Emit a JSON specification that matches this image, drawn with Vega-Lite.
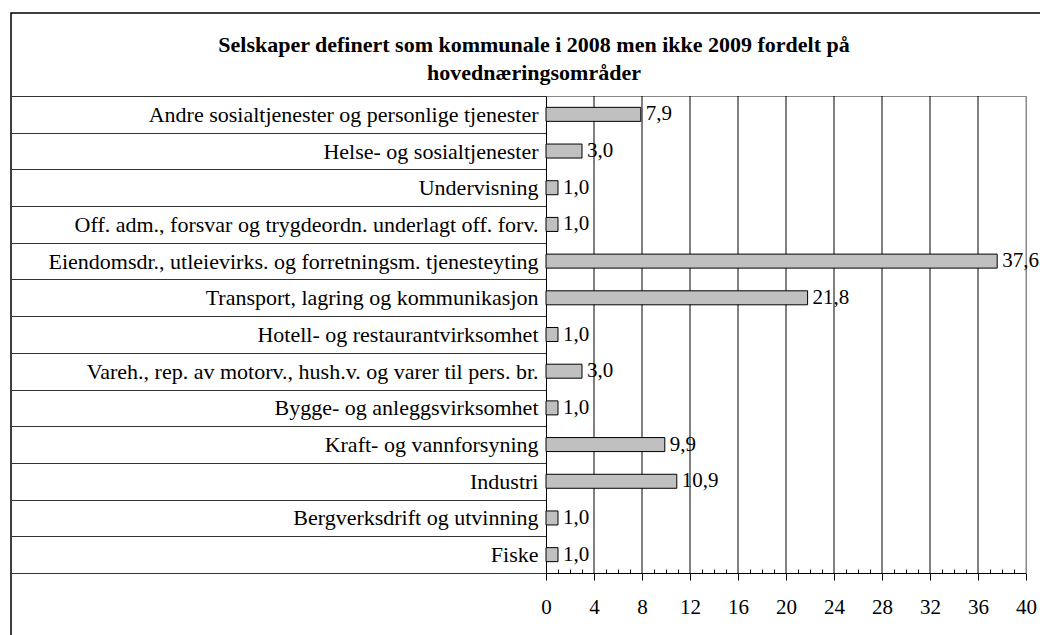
{
  "$schema": "https://vega.github.io/schema/vega-lite/v6.json",
  "width": 1030,
  "height": 623,
  "padding": {"left": 10, "top": 2, "right": 0, "bottom": 0},
  "title": {
    "text": ["Selskaper definert som  kommunale i 2008 men ikke 2009 fordelt på", "hovednæringsområder"],
    "font": "Liberation Serif",
    "fontSize": 22,
    "fontWeight": "bold",
    "color": "black",
    "anchor": "middle",
    "frame": "group",
    "offset": -83,
    "dx": 8,
    "lineHeight": 28
  },
  "datasets": {
    "rows": [
      {"kategori": "Andre sosialtjenester og personlige tjenester", "verdi": 7.9},
      {"kategori": "Helse- og sosialtjenester", "verdi": 3.0},
      {"kategori": "Undervisning", "verdi": 1.0},
      {"kategori": "Off. adm., forsvar og trygdeordn. underlagt off. forv.", "verdi": 1.0},
      {"kategori": "Eiendomsdr., utleievirks. og forretningsm. tjenesteyting", "verdi": 37.6},
      {"kategori": "Transport, lagring og kommunikasjon", "verdi": 21.8},
      {"kategori": "Hotell- og restaurantvirksomhet", "verdi": 1.0},
      {"kategori": "Vareh., rep. av motorv., hush.v. og varer til pers. br.", "verdi": 3.0},
      {"kategori": "Bygge- og anleggsvirksomhet", "verdi": 1.0},
      {"kategori": "Kraft- og vannforsyning", "verdi": 9.9},
      {"kategori": "Industri", "verdi": 10.9},
      {"kategori": "Bergverksdrift og utvinning", "verdi": 1.0},
      {"kategori": "Fiske", "verdi": 1.0}
    ],
    "grid": [
      {"g": 4}, {"g": 8}, {"g": 12}, {"g": 16}, {"g": 20},
      {"g": 24}, {"g": 28}, {"g": 32}, {"g": 36}, {"g": 40}
    ]
  },
  "layer": [
    {
      "data": {"name": "grid"},
      "mark": {"type": "rule", "strokeWidth": 1},
      "encoding": {
        "x": {
          "field": "g",
          "type": "quantitative",
          "scale": {"domain": [0, 40], "range": [535, 1015], "nice": false, "zero": true},
          "axis": {"orient": "top", "offset": -83, "domainColor": "#888888", "ticks": false, "labels": false, "grid": false, "title": null}
        },
        "y": {
          "datum": 0,
          "type": "quantitative",
          "scale": {"domain": [0, 1], "range": [83, 560], "nice": false},
          "axis": {"orient": "right", "offset": -15, "domainColor": "#888888", "ticks": false, "labels": false, "grid": false, "title": null}
        },
        "y2": {"datum": 1},
        "color": {"condition": {"test": "datum.g == 40", "value": "#888888"}, "value": "black"}
      }
    },
    {
      "data": {"name": "rows"},
      "mark": {"type": "bar", "fill": "#c0c0c0", "stroke": "black", "strokeWidth": 1, "size": 14},
      "encoding": {
        "y": {
          "field": "kategori",
          "type": "nominal",
          "sort": null,
          "scale": {"range": [83, 560], "paddingInner": 0, "paddingOuter": 0},
          "axis": {
            "orient": "left",
            "offset": -535,
            "title": null,
            "tickBand": "extent",
            "tickSize": 535,
            "tickColor": "#333333",
            "tickWidth": 1,
            "labelPadding": -527,
            "labelFont": "Liberation Serif",
            "labelFontSize": 22,
            "labelColor": "black",
            "labelLimit": 0,
            "domainColor": "black",
            "grid": false
          }
        },
        "x": {
          "field": "verdi",
          "type": "quantitative",
          "axis": {
            "orient": "bottom",
            "offset": -63,
            "values": [0, 4, 8, 12, 16, 20, 24, 28, 32, 36, 40],
            "tickSize": 7,
            "tickColor": "black",
            "domainColor": "black",
            "grid": false,
            "labelFont": "Liberation Serif",
            "labelFontSize": 21,
            "labelColor": "black",
            "labelPadding": 16,
            "labelFlush": false,
            "title": null
          }
        }
      }
    },
    {
      "data": {"name": "rows"},
      "mark": {"type": "text", "align": "left", "baseline": "middle", "dx": 5, "font": "Liberation Serif", "fontSize": 21, "color": "black"},
      "encoding": {
        "y": {
          "field": "kategori",
          "type": "nominal",
          "sort": null,
          "scale": {"range": [83, 560], "paddingInner": 0, "paddingOuter": 0},
          "axis": null
        },
        "x": {
          "field": "verdi",
          "type": "quantitative",
          "axis": {
            "orient": "bottom",
            "offset": -63,
            "values": [1, 2, 3, 5, 6, 7, 9, 10, 11, 13, 14, 15, 17, 18, 19, 21, 22, 23, 25, 26, 27, 29, 30, 31, 33, 34, 35, 37, 38, 39],
            "tickSize": -4,
            "tickColor": "black",
            "domain": false,
            "labels": false,
            "grid": false,
            "title": null
          }
        },
        "text": {"field": "verdi", "type": "quantitative", "format": ".1f"}
      }
    }
  ],
  "resolve": {"scale": {"y": "independent"}, "axis": {"x": "independent", "y": "independent"}},
  "config": {
    "view": {"stroke": "black", "strokeWidth": 1.5},
    "locale": {"number": {"decimal": ",", "thousands": " ", "grouping": [3], "currency": ["", " kr"]}}
  }
}
